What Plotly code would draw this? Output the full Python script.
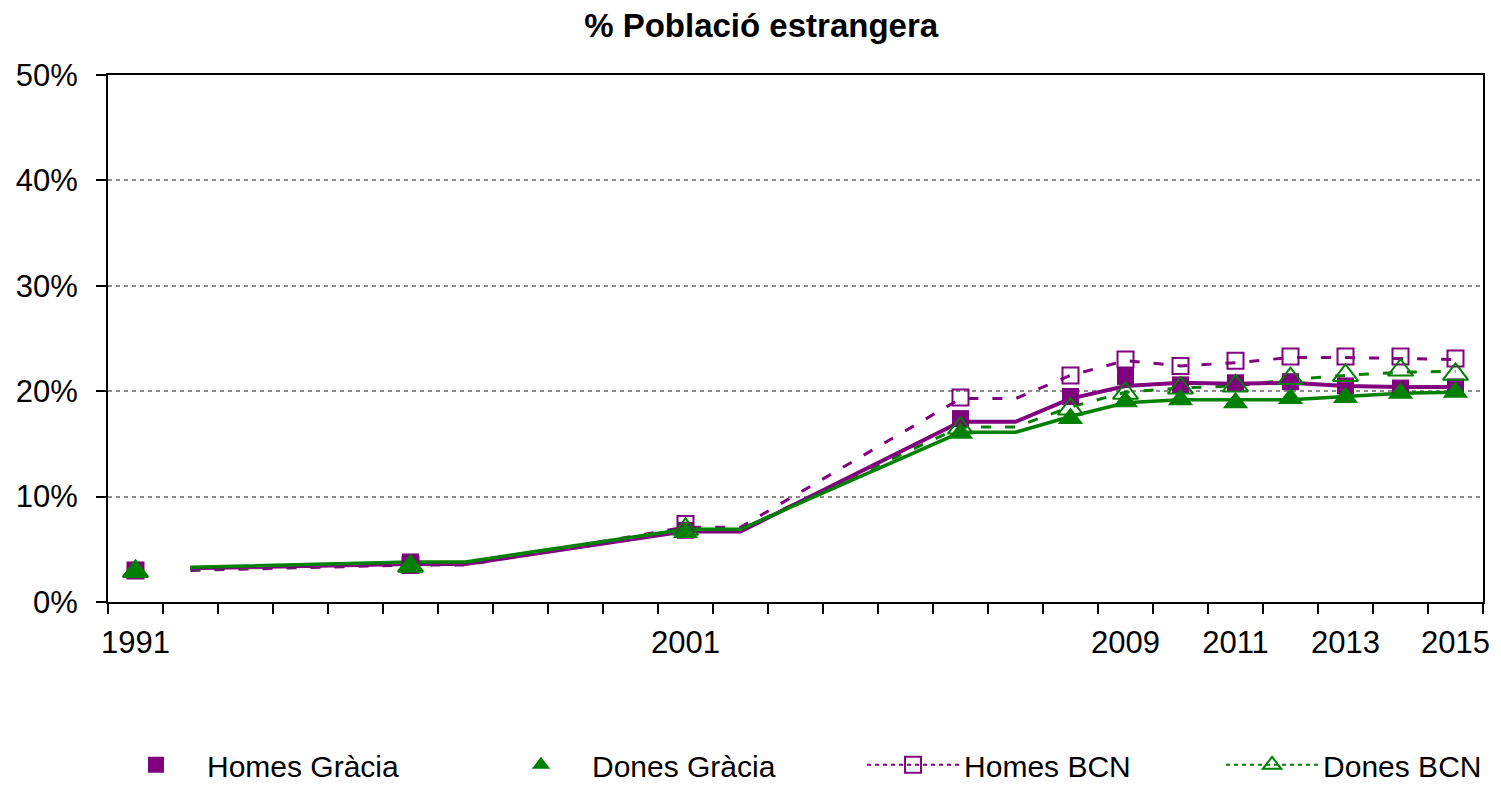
import plotly.graph_objects as go

# ---- data (percent) ----
marker_years = [1991, 1996, 2001, 2006, 2008, 2009, 2010, 2011, 2012, 2013, 2014, 2015]
homes_gracia = [3.0, 3.8, 6.8, 17.4, 19.5, 21.4, 20.6, 20.8, 20.9, 20.5, 20.3, 20.4]
dones_gracia = [2.9, 3.4, 6.6, 16.0, 17.4, 19.0, 19.2, 18.9, 19.3, 19.4, 19.8, 19.9]
homes_bcn = [3.0, 3.5, 7.4, 19.4, 21.5, 23.0, 22.4, 22.9, 23.3, 23.3, 23.3, 23.1]
dones_bcn = [2.9, 3.4, 6.9, 16.5, 18.3, 19.8, 20.3, 20.5, 21.2, 21.5, 22.0, 21.6]

line_years = [1992, 1996, 1997, 2001, 2002, 2006, 2007, 2008, 2009, 2010, 2011, 2012, 2013, 2014, 2015]
homes_gracia_line = [3.2, 3.6, 3.6, 6.7, 6.7, 17.1, 17.1, 19.3, 20.5, 20.8, 20.7, 20.8, 20.5, 20.4, 20.4]
dones_gracia_line = [3.3, 3.8, 3.8, 6.9, 6.9, 16.1, 16.1, 17.6, 18.9, 19.2, 19.2, 19.2, 19.5, 19.8, 19.9]
homes_bcn_line = [3.0, 3.5, 3.5, 7.1, 7.1, 19.3, 19.3, 21.5, 22.9, 22.4, 22.7, 23.2, 23.2, 23.1, 23.0]
dones_bcn_line = [3.1, 3.6, 3.6, 6.9, 6.9, 16.6, 16.6, 18.5, 19.9, 20.3, 20.5, 21.1, 21.5, 21.8, 21.9]

tick_years = [1991, 2001, 2009, 2011, 2013, 2015]
y_ticks = [0, 10, 20, 30, 40, 50]

PURPLE = "#800080"
GREEN = "#008000"

fig = go.Figure()

# lines (no legend)
fig.add_trace(go.Scatter(x=line_years, y=homes_bcn_line, mode="lines", showlegend=False,
                         line=dict(color=PURPLE, width=3, dash="10px,14px")))
fig.add_trace(go.Scatter(x=line_years, y=dones_bcn_line, mode="lines", showlegend=False,
                         line=dict(color=GREEN, width=3, dash="10px,14px")))
fig.add_trace(go.Scatter(x=line_years, y=homes_gracia_line, mode="lines", showlegend=False,
                         line=dict(color=PURPLE, width=4)))
fig.add_trace(go.Scatter(x=line_years, y=dones_gracia_line, mode="lines", showlegend=False,
                         line=dict(color=GREEN, width=3.5)))

# markers
fig.add_trace(go.Scatter(x=marker_years, y=homes_bcn, mode="markers", showlegend=False,
                         marker=dict(symbol="square-open", size=16, color=PURPLE,
                                     line=dict(color=PURPLE, width=2))))
fig.add_trace(go.Scatter(x=marker_years, y=homes_gracia, mode="markers", name="Homes Gràcia",
                         legend="legend",
                         marker=dict(symbol="square", size=17, color=PURPLE)))
fig.add_trace(go.Scatter(x=marker_years, y=dones_gracia, mode="markers", name="Dones Gràcia",
                         legend="legend2",
                         marker=dict(symbol="triangle-up", size=22, color=GREEN)))
fig.add_trace(go.Scatter(x=marker_years, y=dones_bcn, mode="markers", showlegend=False,
                         marker=dict(symbol="triangle-up-open", size=22, color=GREEN,
                                     line=dict(color=GREEN, width=2))))

# legend entries for BCN series
fig.add_trace(go.Scatter(x=[None], y=[None], mode="lines+markers", name="Homes BCN",
                         legend="legend3",
                         line=dict(color=PURPLE, width=2, dash="4px,4px"),
                         marker=dict(symbol="square-open", size=16, color=PURPLE,
                                     line=dict(color=PURPLE, width=2))))
fig.add_trace(go.Scatter(x=[None], y=[None], mode="lines+markers", name="Dones BCN",
                         legend="legend4",
                         line=dict(color=GREEN, width=2, dash="4px,4px"),
                         marker=dict(symbol="triangle-up-open", size=22, color=GREEN,
                                     line=dict(color=GREEN, width=2))))

leg_common = dict(orientation="h", xanchor="left", y=-0.309, yanchor="middle",
                  itemwidth=92, font=dict(size=30), bgcolor="rgba(0,0,0,0)")

# the page body adds an 8px offset, so the figure is 8px smaller and shifted
fig.update_layout(
    width=1493, height=781,
    margin=dict(l=100, r=18, t=67, b=187, autoexpand=False),
    plot_bgcolor="white", paper_bgcolor="white",
    font=dict(family="Liberation Sans, Arial, sans-serif", size=31, color="black"),
    title=dict(text="<b>% Població estrangera</b>", x=0.475, xref="paper", xanchor="center",
               y=0.978, yref="container", yanchor="middle",
               font=dict(size=33, color="black")),
    showlegend=True,
    legend=dict(x=-0.0022, **leg_common),
    legend2=dict(x=0.2778, **leg_common),
    legend3=dict(x=0.5484, **leg_common),
    legend4=dict(x=0.8095, **leg_common),
)

fig.update_xaxes(
    range=[1990.5, 2015.5], tickvals=tick_years, ticktext=[str(y) for y in tick_years],
    ticks="", showgrid=False, zeroline=False, automargin=False,
    showline=True, linecolor="black", linewidth=2, mirror=True,
    ticklabelstandoff=12,
    minor=dict(ticks="outside", ticklen=10, tickwidth=2, tickcolor="black",
               tick0=1990.5, dtick=1, showgrid=False),
)
fig.update_yaxes(
    range=[0, 50], tickvals=y_ticks, ticktext=[f"{v}%" for v in y_ticks],
    ticks="outside", ticklen=10, tickwidth=2, tickcolor="black",
    showgrid=True, gridcolor="#8c8c8c", griddash="4px,4px", gridwidth=1.5,
    zeroline=False, showline=True, linecolor="black", linewidth=2, mirror=True,
    ticklabelstandoff=12, automargin=False,
)

fig.write_html("out.html")
